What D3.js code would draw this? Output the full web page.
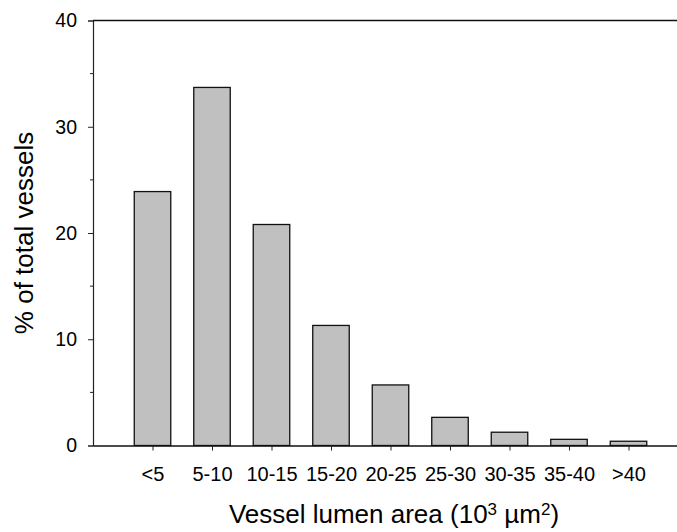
<!DOCTYPE html>
<html>
<head>
<meta charset="utf-8">
<script src="https://cdn.jsdelivr.net/npm/d3@7"></script>
<style>
  body { margin: 0; background: #fff; }
  svg { display: block; font-family: "Liberation Sans", Arial, sans-serif; }
</style>
</head>
<body>
<svg id="chart" width="677" height="532"></svg>
<script>
// Data
const categories = ['<5', '5-10', '10-15', '15-20', '20-25', '25-30', '30-35', '35-40', '>40'];
const percents = [23.9, 33.7, 20.8, 11.3, 5.7, 2.65, 1.25, 0.58, 0.4];
const yTicks = [0, 10, 20, 30, 40];
const yMinorTicks = [5, 15, 25, 35];

const svg = d3.select('#chart');
const margin = { left: 93, top: 20.5, bottom: 445.5 };
const font = '"Liberation Sans", Arial, sans-serif';

// x: bar centres sit at 1..9 on a linear axis spanning 0..10
const x = d3.scaleLinear().domain([0, 10]).range([margin.left, margin.left + 595]);
const y = d3.scaleLinear().domain([0, 40]).range([margin.bottom, margin.top]);
const barW = 36.5;

// bars
svg.append('g')
  .selectAll('rect')
  .data(percents)
  .enter()
  .append('rect')
  .attr('x', (d, i) => x(i + 1) - barW / 2)
  .attr('y', d => y(d))
  .attr('width', barW)
  .attr('height', d => y(0) - y(d))
  .attr('fill', '#c0c0c0')
  .attr('stroke', '#111')
  .attr('stroke-width', 1.3);

// y axis
const yAxis = svg.append('g')
  .attr('transform', `translate(${margin.left},0)`)
  .call(d3.axisLeft(y).tickValues(yTicks).tickSize(5).tickPadding(11).tickFormat(d3.format('d')));
yAxis.select('.domain').attr('stroke', '#222').attr('stroke-width', 1.2);
yAxis.selectAll('.tick line').attr('stroke', '#222');
yAxis.selectAll('.tick text')
  .attr('font-size', 19.5)
  .attr('font-family', font)
  .attr('fill', '#000');

svg.append('g')
  .selectAll('line')
  .data(yMinorTicks)
  .enter()
  .append('line')
  .attr('x1', margin.left - 3)
  .attr('x2', margin.left)
  .attr('y1', d => y(d))
  .attr('y2', d => y(d))
  .attr('stroke', '#222');

// top frame line
svg.append('line')
  .attr('x1', margin.left)
  .attr('x2', x(10))
  .attr('y1', y(40))
  .attr('y2', y(40))
  .attr('stroke', '#111')
  .attr('stroke-width', 1.3);

// x axis
const xAxis = svg.append('g')
  .attr('transform', `translate(0,${y(0)})`)
  .call(d3.axisBottom(x)
    .tickValues(d3.range(1, categories.length + 1))
    .tickSize(5)
    .tickSizeOuter(0)
    .tickPadding(16)
    .tickFormat(d => categories[d - 1]));
xAxis.select('.domain').attr('stroke', '#111').attr('stroke-width', 1.3);
xAxis.selectAll('.tick line').attr('stroke', '#222');
xAxis.selectAll('.tick text')
  .attr('font-size', 20)
  .attr('font-family', font)
  .attr('fill', '#000');

// axis titles
svg.append('text')
  .attr('transform', `translate(33,${(y(0) + y(40)) / 2}) rotate(-90)`)
  .attr('text-anchor', 'middle')
  .attr('font-size', 26)
  .text('% of total vessels');

const xt = svg.append('text')
  .attr('x', 394)
  .attr('y', 522.5)
  .attr('text-anchor', 'middle')
  .attr('font-size', 26);
xt.append('tspan').text('Vessel lumen area (10');
xt.append('tspan').attr('font-size', 17).attr('dy', -8).text('3');
xt.append('tspan').attr('dy', 8).text(' µm');
xt.append('tspan').attr('font-size', 17).attr('dy', -8).text('2');
xt.append('tspan').attr('dy', 8).text(')');
</script>
</body>
</html>
